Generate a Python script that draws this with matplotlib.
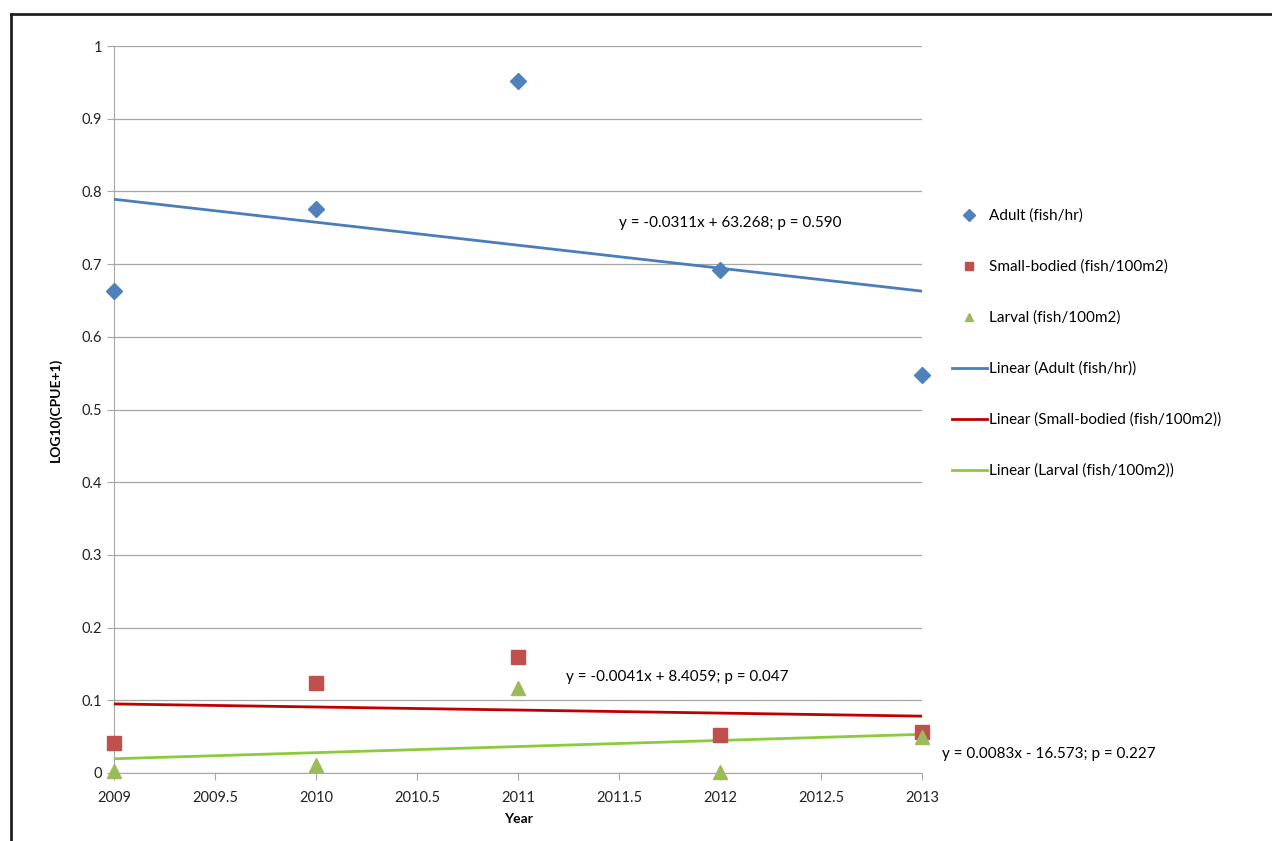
import numpy as np
import matplotlib.pyplot as plt
from matplotlib.lines import Line2D

plt.rcParams['font.family'] = ['Lato', 'DejaVu Sans']

years = [2009, 2010, 2011, 2012, 2013]
adult = [0.663, 0.776, 0.952, 0.692, 0.547]
small_bodied = [0.041, 0.124, 0.160, 0.052, 0.056]
larval = [0.003, 0.011, 0.117, 0.001, 0.050]

series_names = ['Adult (fish/hr)', 'Small-bodied (fish/100m2)', 'Larval (fish/100m2)']
equations = ['y = -0.0311x + 63.268; p = 0.590',
             'y = -0.0041x + 8.4059; p = 0.047',
             'y = 0.0083x - 16.573; p = 0.227']

marker_colors = ['#4F81BD', '#C0504D', '#9BBB59']
trend_colors = ['#4A7EBB', '#C00000', '#8CCB3C']
markers = ['D', 's', '^']
msizes = [8, 10, 10]

fig = plt.figure(figsize=(12.72, 8.41), dpi=100)
ax = fig.add_axes([114 / 1272, 1 - 773 / 841, (922 - 114) / 1272, (773 - 46) / 841])

x = np.array(years, dtype=float)
xx = np.array([2009, 2013], dtype=float)
for vals, mc, tc, m, ms in zip([adult, small_bodied, larval], marker_colors, trend_colors, markers, msizes):
    ax.plot(x, vals, linestyle='none', marker=m, color=mc, markersize=ms, zorder=4, clip_on=False)
    k, b = np.polyfit(x, vals, 1)
    ax.plot(xx, k * xx + b, color=tc, linewidth=2, zorder=3)

ax.set_xlim(2009, 2013)
ax.set_ylim(0, 1)
ax.set_xticks(np.arange(2009, 2013.01, 0.5))
ax.set_xticklabels(['2009', '2009.5', '2010', '2010.5', '2011', '2011.5', '2012', '2012.5', '2013'])
ax.set_yticks(np.arange(0, 1.01, 0.1))
ax.set_yticklabels(['0', '0.1', '0.2', '0.3', '0.4', '0.5', '0.6', '0.7', '0.8', '0.9', '1'])
ax.grid(axis='y', color='#A6A6A6', linewidth=0.9)
ax.set_axisbelow(True)
for s in ['top', 'right']:
    ax.spines[s].set_visible(False)
for s in ['left', 'bottom']:
    ax.spines[s].set_color('#A6A6A6')
ax.tick_params(axis='both', colors='#A6A6A6', labelcolor='#222222', labelsize=10.5, length=5)
ax.tick_params(axis='x', pad=8)
ax.set_xlabel('Year', fontsize=10, fontweight='bold', labelpad=6)
ax.set_ylabel('LOG10(CPUE+1)', fontsize=10, fontweight='bold', labelpad=14)

# equation labels
ax.text(2012.05, 0.757, equations[0], fontsize=11, ha='center', va='center')
ax.text(2011.79, 0.132, equations[1], fontsize=11, ha='center', va='center')
ax.text(2013.10, 0.026, equations[2], fontsize=11, ha='left', va='center', clip_on=False)

# legend
handles = []
for mc, m, name in zip(marker_colors, markers, series_names):
    handles.append(Line2D([], [], linestyle='none', marker=m, color=mc, markersize=6, label=name))
for tc, name in zip(trend_colors, series_names):
    handles.append(Line2D([], [], color=tc, linewidth=2, label='Linear (' + name + ')'))
fig.legend(handles=handles, loc='upper left', bbox_to_anchor=(938 / 1272, 1 - 195 / 841),
           frameon=False, fontsize=11, labelspacing=2.4, handlelength=2.3, handletextpad=0.15)

# outer frame
fig.add_artist(Line2D([11 / 1272, 11 / 1272], [0, 1 - 14 / 841], transform=fig.transFigure, color='#222222', linewidth=2))
fig.add_artist(Line2D([11 / 1272, 1], [1 - 14 / 841, 1 - 14 / 841], transform=fig.transFigure, color='#222222', linewidth=2))

fig.savefig('out.png', dpi=100, facecolor='white')
